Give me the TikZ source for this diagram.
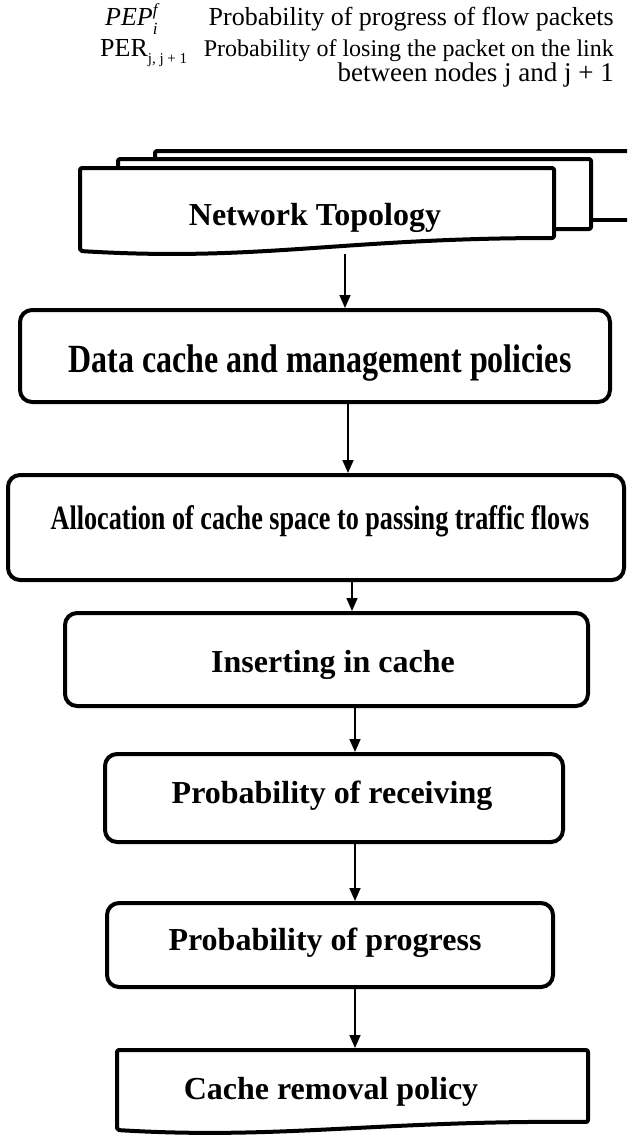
\documentclass[tikz,border=0pt]{standalone}
\usepackage{graphicx}
\usepackage{fontspec}
\setmainfont{Liberation Serif}
\usetikzlibrary{arrows.meta}
\begin{document}
\begin{tikzpicture}[x=1pt,y=-1pt,
  box/.style={draw, line width=4pt, rounded corners=12pt, inner sep=0pt},
  doc/.style={draw, line width=4pt, line join=round, rounded corners=2pt},
  lbl/.style={font=\fontsize{32}{36}\selectfont\bfseries, inner sep=0pt, anchor=base},
  hdr/.style={font=\fontsize{26}{30}\selectfont, inner sep=0pt},
  conn/.style={line width=1.6pt, -{Triangle[length=13pt,width=11pt]}}]
\useasboundingbox (0,0) rectangle (627,1136);
\clip (0,0) rectangle (627,1136);

% header legend
\node[hdr, anchor=base west] (s1) at (105,25) {\textit{PEP}\rlap{\raisebox{0.38em}{\fontsize{17}{17}\selectfont\itshape f}}\raisebox{-0.35em}{\fontsize{17}{17}\selectfont\itshape i}};
\node[hdr, anchor=base east] (h1) at (614,25) {Probability of progress of flow packets};
\node[hdr, anchor=base west] (s2) at (100,56) {PER\raisebox{-0.3em}{\fontsize{15}{15}\selectfont j, j + 1}};
\node[hdr, anchor=base east] (h2) at (614,56) {\fontsize{24}{28}\selectfont Probability of losing the packet on the link};
\node[hdr, anchor=base east] (h3) at (614,81) {\fontsize{27}{30}\selectfont between nodes j and j + 1};

% multi-document: Network Topology
\draw[doc] (155,159) -- (155,151) -- (640,151);
\draw[doc] (591,220) -- (640,220);
\draw[doc] (118,168) -- (118,159) -- (591,159) -- (591,229) -- (554,229);
\draw[doc] (80,168) -- (554,168) -- (554,238) .. controls (340,238) and (260,262) .. (80,251) -- cycle;
\node[lbl] (nt) at (315,225) {Network Topology};
\coordinate (ntb) at (345,254);

% process boxes
\node[box, minimum width=590pt, minimum height=92pt] (b2) at (315,356) {};
\node[lbl] (t2) at (320,372) {\fontsize{40}{44}\selectfont\scalebox{0.8}[1]{Data cache and management policies}};
\node[box, minimum width=616pt, minimum height=105pt] (b3) at (316,527.5) {};
\node[lbl] (t3) at (320,529) {\fontsize{34}{38}\selectfont\scalebox{0.77}[1]{Allocation of cache space to passing traffic flows}};
\node[box, minimum width=523pt, minimum height=93pt] (b4) at (326.5,659.5) {};
\node[lbl] (t4) at (333,672) {Inserting in cache};
\node[box, minimum width=458pt, minimum height=88pt] (b5) at (334,798) {};
\node[lbl] (t5) at (332,803) {Probability of receiving};
\node[box, minimum width=446pt, minimum height=84pt] (b6) at (330,945) {};
\node[lbl] (t6) at (325,950) {Probability of progress};

% document: Cache removal policy
\draw[doc] (117,1050) -- (588,1050) -- (588,1122) .. controls (380,1120) and (280,1140) .. (117,1130) -- cycle;
\node[lbl] (t7) at (331,1099) {Cache removal policy};
\coordinate (crt) at (355,1048);

% connectors
\coordinate (x2) at (348,0);
\coordinate (x3) at (352,0);
\coordinate (x4) at (355,0);
\draw[conn] (ntb) -- (b2.north -| ntb);
\draw[conn] (b2.south -| x2) -- (b3.north -| x2);
\draw[conn] (b3.south -| x3) -- (b4.north -| x3);
\draw[conn] (b4.south -| x4) -- (b5.north -| x4);
\draw[conn] (b5.south -| x4) -- (b6.north -| x4);
\draw[conn] (b6.south -| x4) -- (crt);
\end{tikzpicture}
\end{document}
